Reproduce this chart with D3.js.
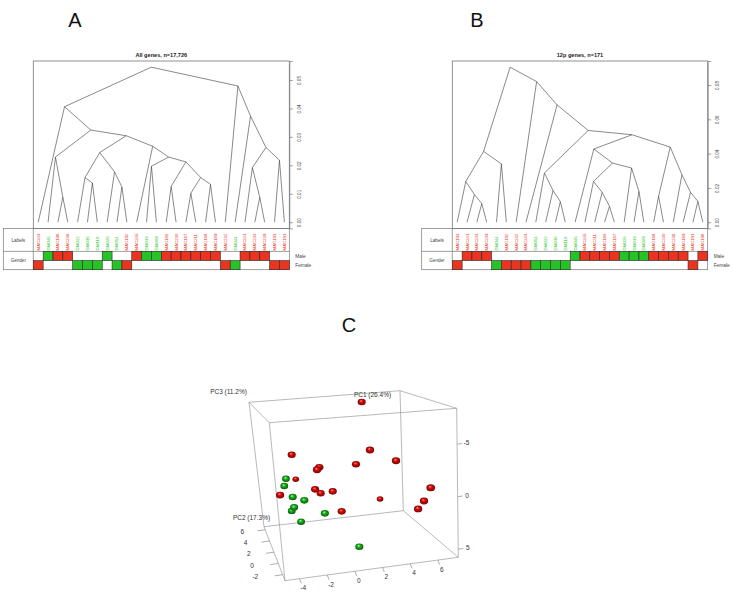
<!DOCTYPE html>
<html><head><meta charset="utf-8">
<script src="https://cdn.jsdelivr.net/npm/d3@7/dist/d3.min.js"></script>
<style>body{margin:0;background:#fff}svg{display:block}text{font-family:"Liberation Sans",Arial,sans-serif}</style>
</head><body><svg id="c" width="733" height="595"></svg>
<script>
// ---------------- DATA ----------------
const macFemale = ["MAC243","MAC192","MAC232","MAC193","MAC191"];
const macMale = ["MAC198","MAC238","MAC246","MAC186","MAC230","MAC187","MAC211","MAC188","MAC189","MAC241","MAC233","MAC239"];
const gmFemale = ["GM022","GM036","GM110","GM054","GM044"];
const gmMale = ["GM046","GM026","GM033","GM009"];

const orderA = ["MAC243","GM046","MAC198","MAC238","GM022","GM036","GM110","GM026","GM054","MAC192","MAC246","GM033","GM009",
  "MAC186","MAC230","MAC187","MAC211","MAC188","MAC189","MAC232","GM044","MAC241","MAC233","MAC239","MAC193","MAC191"];
// merges: negative = leaf position (1-based), positive = earlier merge (1-based)
const mergeA = [[-3,-4],[-2,1],[-6,-7],[-5,3],[-9,-10],[-8,5],[4,6],[-12,-13],[-14,-15],[-16,-17],[-18,-19],[10,11],[9,12],
  [8,13],[-11,14],[7,15],[2,16],[-1,17],[-23,-24],[-22,19],[-25,-26],[20,21],[-21,22],[-20,23],[18,24]];
const heightA = [0.0088,0.0229,0.0138,0.0157,0.0124,0.0177,0.0245,0.0197,0.0126,0.0102,0.0133,0.0157,0.0212,
  0.0229,0.0267,0.0304,0.0324,0.0406,0.0088,0.0192,0.0218,0.0263,0.0373,0.0479,0.0545];
const ticksA = [0,0.01,0.02,0.03,0.04,0.05];
const titleA = "All genes, n=17,726";

const orderB = ["MAC193","MAC241","MAC233","MAC239","GM044","MAC192","MAC232","MAC243","GM054","GM022","GM036","GM110","GM046",
  "MAC246","MAC211","MAC186","MAC187","GM026","GM033","GM009","MAC188","MAC230","MAC238","MAC189","MAC191","MAC198"];
const mergeB = [[-3,-4],[-2,1],[-1,2],[-5,-6],[3,4],[-11,-12],[-10,6],[-9,7],[-16,-17],[-15,9],[-14,10],[-19,-20],[-18,12],
  [11,13],[-13,14],[-21,-22],[-25,-26],[-24,17],[-23,18],[16,19],[15,20],[8,21],[-8,22],[-7,23],[5,24]];
const heightB = [0.0109,0.0161,0.0238,0.034,0.0413,0.012,0.0185,0.0287,0.0093,0.0174,0.0238,0.018,0.0316,
  0.0345,0.0427,0.0151,0.0122,0.0174,0.0277,0.0438,0.051,0.0535,0.0684,0.082,0.0904];
const ticksB = [0,0.02,0.04,0.06,0.08];
const titleB = "12p genes, n=171";

// PCA panel: positions on the projected view plane (0-100), depth (0 far - 1 near)
const pcaGroup = ["MAC","MAC","MAC","MAC","MAC","MAC","MAC","MAC","MAC","MAC","MAC","MAC","MAC","MAC","MAC","MAC","MAC",
  "GM","GM","GM","GM","GM","GM","GM","GM","GM"];
const pcaU = [57.75,60.7,70.0,55.7,32.75,42.6,41.8,34.2,82.4,41.1,43.1,47.4,28.6,64.3,80.0,77.9,50.6,
  30.7,30.1,33.1,37.25,33.6,32.75,44.6,36.1,56.9];
const pcaV = [10.0,31.8,36.7,38.3,34.0,39.7,40.8,45.1,49.0,49.7,51.5,50.6,52.3,54.1,55.0,58.6,59.7,
  44.9,48.2,53.2,54.7,57.9,59.5,60.6,64.4,75.8];
const pcaDepth = [0.6,0.7,0.7,0.6,0.6,0.7,0.7,0.1,0.8,0.6,0.6,0.6,0.7,0.1,0.7,0.7,0.6,
  0.5,0.5,0.6,0.6,0.6,0.5,0.6,0.5,0.6];
const pc1Ticks = [-4,-2,0,2,4,6];
const pc2Ticks = [6,4,2,0,-2];
const pc3Ticks = [-5,0,5];
const pcTitles = ["PC1 (26.4%)","PC2 (17.3%)","PC3 (11.2%)"];
const panelLetters = ["A","B","C"];

// ---------------- DRAW ----------------
const RED = "#ea3420", GREEN = "#26c326";
const svg = d3.select("#c");
const groupOf = n => n.startsWith("GM") ? "GM" : "MAC";
const sexOf = n => (macFemale.includes(n) || gmFemale.includes(n)) ? "F" : "M";
const col = g => g === "GM" ? GREEN : RED;

function dendro(cfg) {
  const g = svg.append("g");
  const n = cfg.order.length;
  const maxH = d3.max(cfg.heights);
  const xs = d3.scaleLinear().domain([0.5, n + 0.5]).range([cfg.x0, cfg.x1]);
  const ys = d3.scaleLinear().domain([-0.04 * maxH, 1.04 * maxH]).range([cfg.y1, cfg.y0]);
  const nodes = [];
  const ref = r => r < 0 ? {x: -r, h: 0} : nodes[r - 1];
  cfg.merge.forEach((m, i) => {
    const a = ref(m[0]), b = ref(m[1]);
    nodes.push({x: (a.x + b.x) / 2, h: cfg.heights[i], kids: [a, b]});
  });
  const segs = [];
  nodes.forEach(nd => nd.kids.forEach(k => segs.push([nd, k])));
  g.selectAll("line.br").data(segs).join("line").attr("class", "br")
    .attr("x1", d => xs(d[0].x)).attr("y1", d => ys(d[0].h))
    .attr("x2", d => xs(d[1].x)).attr("y2", d => ys(d[1].h))
    .attr("stroke", "#3a3a3a").attr("stroke-width", 0.6);
  // box
  g.append("rect").attr("x", cfg.x0).attr("y", cfg.y0).attr("width", cfg.x1 - cfg.x0).attr("height", cfg.y1 - cfg.y0)
    .attr("fill", "none").attr("stroke", "#777").attr("stroke-width", 0.8);
  // title
  g.append("text").attr("x", (cfg.x0 + cfg.x1) / 2).attr("y", cfg.y0 - 4).attr("text-anchor", "middle")
    .attr("font-size", 5.6).attr("font-weight", "bold").attr("fill", "#222").text(cfg.title);
  // axis right
  const ax = g.append("g").attr("transform", `translate(${cfg.x1},0)`)
    .call(d3.axisRight(ys).tickValues(cfg.ticks).tickSize(3.5).tickFormat(d3.format(".2f")));
  ax.select(".domain").attr("stroke", "#777").attr("stroke-width", 0.7);
  ax.selectAll(".tick line").attr("stroke", "#777").attr("stroke-width", 0.7);
  ax.selectAll(".tick text").attr("x", null).attr("dy", null).attr("text-anchor", "middle")
    .attr("transform", "translate(11.3,0) rotate(-90)").attr("font-size", 4.6).attr("fill", "#444")
    .attr("font-family", '"Liberation Sans",Arial,sans-serif');
  // label panel
  const yL0 = cfg.y1, yL1 = cfg.y1 + 23, yM = yL1 + 9.2, yF1 = yL1 + 18.3;
  g.append("rect").attr("x", cfg.lx).attr("y", yL0).attr("width", cfg.x1 - cfg.lx).attr("height", yF1 - yL0)
    .attr("fill", "none").attr("stroke", "#777").attr("stroke-width", 0.7);
  g.append("line").attr("x1", cfg.lx).attr("x2", cfg.x1).attr("y1", yL1).attr("y2", yL1).attr("stroke", "#777").attr("stroke-width", 0.7);
  g.append("line").attr("x1", cfg.x0).attr("x2", cfg.x0).attr("y1", yL0).attr("y2", yF1).attr("stroke", "#777").attr("stroke-width", 0.7);
  g.append("text").attr("x", (cfg.lx + cfg.x0) / 2).attr("y", (yL0 + yL1) / 2 + 1.6).attr("text-anchor", "middle")
    .attr("font-size", 4.6).attr("fill", "#444").text("Labels");
  g.append("text").attr("x", (cfg.lx + cfg.x0) / 2).attr("y", yM + 1.6).attr("text-anchor", "middle")
    .attr("font-size", 4.6).attr("fill", "#444").text("Gender");
  g.append("text").attr("x", cfg.x1 + 6).attr("y", (yL1 + yM) / 2 + 1.6).attr("font-size", 4.8).attr("fill", "#444").text("Male");
  g.append("text").attr("x", cfg.x1 + 6).attr("y", (yM + yF1) / 2 + 1.6).attr("font-size", 4.8).attr("fill", "#444").text("Female");
  // leaf labels
  g.selectAll("text.lab").data(cfg.order).join("text").attr("class", "lab")
    .attr("transform", (d, i) => `translate(${xs(i + 1) + 1.5},${yL1 - 1}) rotate(-90)`)
    .attr("font-size", 4.3).attr("fill", d => col(groupOf(d))).text(d => d);
  // gender cells
  g.selectAll("rect.cell").data(cfg.order).join("rect").attr("class", "cell")
    .attr("x", (d, i) => xs(i + 0.5)).attr("width", xs(1.5) - xs(0.5))
    .attr("y", d => sexOf(d) === "M" ? yL1 : yM).attr("height", d => sexOf(d) === "M" ? yM - yL1 : yF1 - yM)
    .attr("fill", d => col(groupOf(d))).attr("stroke", "#2a2a2a").attr("stroke-width", 0.6);
}

dendro({order: orderA, merge: mergeA, heights: heightA, ticks: ticksA, title: titleA, x0: 33.3, x1: 289.3, y0: 61, y1: 228.4, lx: 3.3});
dendro({order: orderB, merge: mergeB, heights: heightB, ticks: ticksB, title: titleB, x0: 452.3, x1: 707.7, y0: 61, y1: 228.4, lx: 421.7});

// panel letters
const letterPos = [[75, 27], [477, 27], [349, 332]];
svg.selectAll("text.letter").data(panelLetters).join("text").attr("class", "letter")
  .attr("x", (d, i) => letterPos[i][0]).attr("y", (d, i) => letterPos[i][1]).attr("text-anchor", "middle")
  .attr("font-size", 20).attr("fill", "#111").text(d => d);

// ---------------- PCA 3D panel ----------------
const gC = svg.append("g");
const box = {BTL: [249, 402.3], BTR: [400, 390.7], BBR: [403.3, 510.7], BBL: [264, 526.7],
  FTL: [269.3, 422.7], FTR: [456.7, 408.3], FBR: [458.3, 557.3], FBL: [285, 580.7]};
const edges = [["BTL","BTR"],["BTR","BBR"],["BBR","BBL"],["BBL","BTL"],["FTL","FTR"],["FTR","FBR"],["FBR","FBL"],["FBL","FTL"],
  ["BTL","FTL"],["BTR","FTR"],["BBR","FBR"],["BBL","FBL"]];
gC.selectAll("line.edge").data(edges).join("line").attr("class", "edge")
  .attr("x1", d => box[d[0]][0]).attr("y1", d => box[d[0]][1]).attr("x2", d => box[d[1]][0]).attr("y2", d => box[d[1]][1])
  .attr("stroke", "#8a8a8a").attr("stroke-width", 0.6);
const lerp = (a, b, t) => [a[0] + (b[0] - a[0]) * t, a[1] + (b[1] - a[1]) * t];
function axis3(ticks, from, to, domain, tickDir, tickLen, labOff) {
  const t = d3.scaleLinear().domain(domain).range([0, 1]);
  ticks.forEach(v => {
    const p = lerp(from, to, t(v));
    const off = typeof labOff === "function" ? labOff(t(v)) : labOff;
    gC.append("line").attr("x1", p[0]).attr("y1", p[1]).attr("x2", p[0] + tickDir[0] * tickLen).attr("y2", p[1] + tickDir[1] * tickLen)
      .attr("stroke", "#777").attr("stroke-width", 0.6);
    gC.append("text").attr("x", p[0] + off[0]).attr("y", p[1] + off[1] + 2.2).attr("text-anchor", "middle")
      .attr("font-size", 6.5).attr("fill", "#333").text(v);
  });
}
axis3(pc1Ticks, box.FBL, box.FBR, [-5.05, 7.47], [0.36, 0.93], 5, [3.8, 9.5]);
axis3(pc3Ticks, box.FTR, box.FBR, [-8.42, 5.77], [0.99, -0.14], 5, [9.5, -1.2]);
axis3(pc2Ticks, box.BBL, box.FBL, [6.54, -3.07], [-0.99, 0.14], 8, tt => [-22.5 - 5.5 * tt, 2.3 - 0.6 * tt]);
// axis titles
const titlePos = [[372.5, 397], [251.5, 520], [228.5, 394]];
gC.selectAll("text.pct").data(pcTitles).join("text").attr("class", "pct")
  .attr("x", (d, i) => titlePos[i][0]).attr("y", (d, i) => titlePos[i][1]).attr("text-anchor", "middle")
  .attr("font-size", 6.5).attr("fill", "#333").text(d => d);

// spheres
const defs = svg.append("defs");
[["MAC", "#ff9b8c", "#d80e0a", "#6e0000"], ["GM", "#b5ffb0", "#1cb81c", "#064f06"]].forEach(([k, hi, mid, lo]) => {
  const gr = defs.append("radialGradient").attr("id", "sph" + k).attr("cx", "50%").attr("cy", "50%").attr("r", "55%")
    .attr("fx", "40%").attr("fy", "32%");
  gr.append("stop").attr("offset", "0%").attr("stop-color", hi);
  gr.append("stop").attr("offset", "35%").attr("stop-color", mid);
  gr.append("stop").attr("offset", "100%").attr("stop-color", lo);
});
const us = d3.scaleLinear().domain([0, 100]).range([200, 480]);
const vs = d3.scaleLinear().domain([0, 100]).range([380, 600]);
const rs = d3.scaleLinear().domain([0, 1]).range([2.9, 4.2]);
const pts = pcaU.map((u, i) => ({u, v: pcaV[i], d: pcaDepth[i], g: pcaGroup[i]})).sort((a, b) => a.d - b.d);
gC.selectAll("ellipse.pt").data(pts).join("ellipse").attr("class", "pt")
  .attr("cx", d => us(d.u)).attr("cy", d => vs(d.v)).attr("rx", d => rs(d.d) * 1.1).attr("ry", d => rs(d.d) * 0.9)
  .attr("fill", d => `url(#sph${d.g})`);
</script></body></html>
